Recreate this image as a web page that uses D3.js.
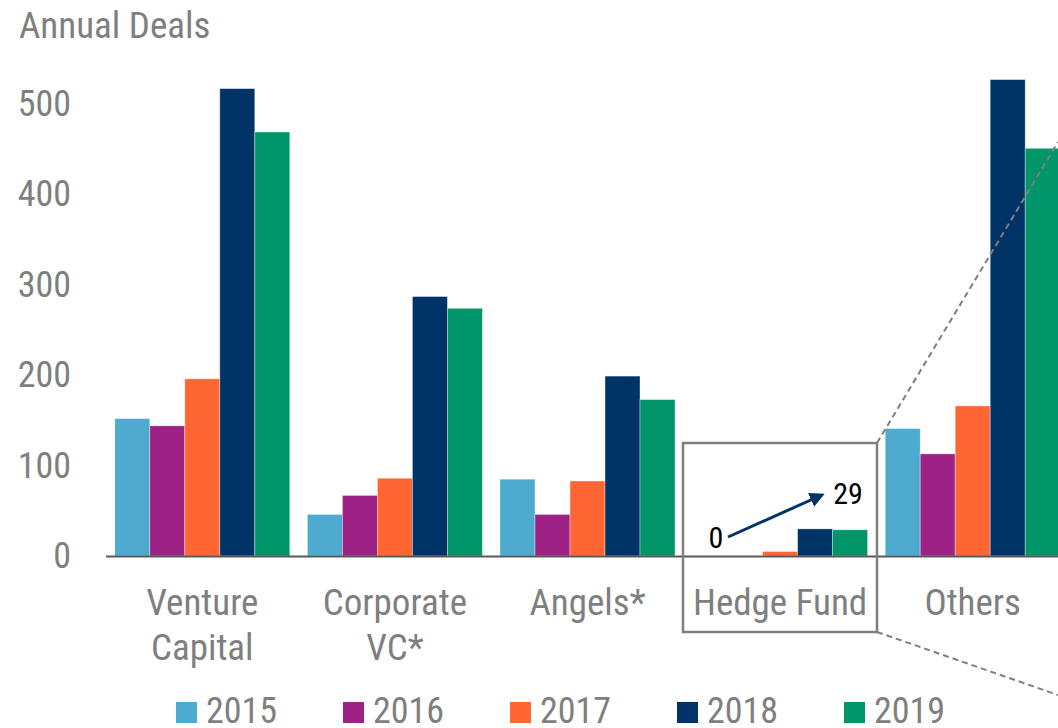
<!DOCTYPE html>
<html>
<head>
<meta charset="utf-8">
<script src="https://cdn.jsdelivr.net/npm/d3@7"></script>
<style>
  html, body { margin: 0; padding: 0; background: #fff; overflow: hidden; }
  svg { display: block; }
  text { font-family: Roboto, "Noto Sans", sans-serif; font-stretch: condensed; }
</style>
</head>
<body>
<svg id="chart" width="1058" height="728"></svg>
<script>
const categories = [["Venture", "Capital"], ["Corporate", "VC*"], ["Angels*"], ["Hedge Fund"], ["Others"]];
const categoryKeys = ["Venture Capital", "Corporate VC*", "Angels*", "Hedge Fund", "Others"];
const years = ["2015", "2016", "2017", "2018", "2019"];
const colors = ["#4dabd0", "#9e2285", "#ff6633", "#003366", "#00966a"];
const values2015 = [152, 46, 85, 0, 141];
const values2016 = [144, 67, 46, 0, 113];
const values2017 = [196, 86, 83, 5, 166];
const values2018 = [517, 287, 199, 30, 527];
const values2019 = [469, 274, 173, 29, 451];
const seriesValues = [values2015, values2016, values2017, values2018, values2019];
const yTicks = [0, 100, 200, 300, 400, 500];
const yTitle = "Annual Deals";
const annotationFrom = 0;
const annotationTo = 29;

const svg = d3.select("#chart");
const grey = "#7f7f7f";

const y = d3.scaleLinear().domain([0, 500]).range([556, 104]);
const x0 = d3.scaleBand().domain(categoryKeys).range([106, 106 + 192.6 * 5]).padding(0);
const x1 = d3.scaleBand().domain(years).range([8.8, 8.8 + 35 * 5]).padding(0);

// y axis labels
const yAxis = d3.axisLeft(y).tickValues(yTicks).tickSize(0).tickPadding(0);
const gy = svg.append("g").attr("transform", "translate(71,0)").call(yAxis);
gy.select(".domain").remove();
gy.selectAll("text")
  .attr("fill", grey)
  .attr("font-size", 36)
  .attr("font-family", "Roboto")
  .attr("dy", "0.32em");

svg.append("text")
  .attr("x", 19).attr("y", 38)
  .attr("fill", grey)
  .attr("font-size", 37)
  .text(yTitle);

// bars
const data = [];
categoryKeys.forEach((c, ci) => {
  years.forEach((yr, si) => {
    data.push({ cat: c, year: yr, si, value: seriesValues[si][ci] });
  });
});

svg.append("g").selectAll("rect")
  .data(data.filter(d => d.value > 0))
  .join("rect")
  .attr("x", d => x0(d.cat) + x1(d.year))
  .attr("width", x1.bandwidth())
  .attr("y", d => y(d.value))
  .attr("height", d => y(0) - y(d.value))
  .attr("fill", d => colors[d.si])
  .attr("stroke", "rgba(255,255,255,0.45)")
  .attr("stroke-width", 0.8);

// x axis line
svg.append("line")
  .attr("x1", 106).attr("x2", 1058)
  .attr("y1", y(0) + 0.5).attr("y2", y(0) + 0.5)
  .attr("stroke", "#595959").attr("stroke-width", 2);

// category labels
const catG = svg.append("g");
categoryKeys.forEach((c, ci) => {
  const cx = x0(c) + x0.bandwidth() / 2;
  const t = catG.append("text")
    .attr("x", cx)
    .attr("y", 615)
    .attr("text-anchor", "middle")
    .attr("fill", grey)
    .attr("font-size", 37);
  categories[ci].forEach((line, li) => {
    t.append("tspan").attr("x", cx).attr("dy", li === 0 ? 0 : 45).text(line);
  });
});

// Hedge fund highlight box
const boxLeft = 683, boxRight = 877, boxTop = 443, boxBottom = 632;
svg.append("rect")
  .attr("x", boxLeft).attr("y", boxTop)
  .attr("width", boxRight - boxLeft).attr("height", boxBottom - boxTop)
  .attr("fill", "none").attr("stroke", grey).attr("stroke-width", 2.5);

// dashed zoom lines
svg.append("line")
  .attr("x1", boxRight).attr("y1", boxTop).attr("x2", 1058).attr("y2", 142)
  .attr("stroke", grey).attr("stroke-width", 2).attr("stroke-dasharray", "6,4");
svg.append("line")
  .attr("x1", boxRight).attr("y1", boxBottom).attr("x2", 1058).attr("y2", 695)
  .attr("stroke", grey).attr("stroke-width", 2).attr("stroke-dasharray", "6,4");

// annotation arrow
const defs = svg.append("defs");
defs.append("marker")
  .attr("id", "arrow").attr("viewBox", "0 0 10 10")
  .attr("refX", 8).attr("refY", 5)
  .attr("markerWidth", 5).attr("markerHeight", 5)
  .attr("orient", "auto")
  .append("path").attr("d", "M0,0 L10,5 L0,10 z").attr("fill", "#003366");

svg.append("line")
  .attr("x1", 728).attr("y1", 537).attr("x2", 822).attr("y2", 495)
  .attr("stroke", "#003366").attr("stroke-width", 3)
  .attr("marker-end", "url(#arrow)");

svg.append("text").attr("x", 716).attr("y", 548).attr("text-anchor", "middle")
  .attr("font-size", 30).attr("fill", "#000").text(annotationFrom);
svg.append("text").attr("x", 848).attr("y", 504).attr("text-anchor", "middle")
  .attr("font-size", 30).attr("fill", "#000").text(annotationTo);

// legend
const legend = svg.append("g");
years.forEach((yr, i) => {
  const lx = 176 + i * 167;
  legend.append("rect").attr("x", lx).attr("y", 702).attr("width", 21).attr("height", 21).attr("fill", colors[i]);
  legend.append("text").attr("x", lx + 30).attr("y", 723).attr("fill", grey).attr("font-size", 36).text(yr);
});
</script>
</body>
</html>
